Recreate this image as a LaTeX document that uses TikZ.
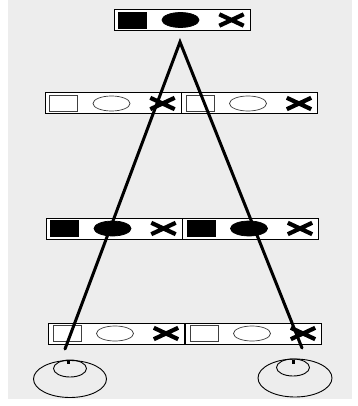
\documentclass[tikz,border=0pt]{standalone}
\usetikzlibrary{shapes.geometric}

% one half of a bar: square, oval and cross
\newcommand\panel[3]{%
  \node[tile] (#1) at (#2) {};
  \node[sqmark, #3]   (#1-sq) at ([xshift=19pt]#1.west) {};
  \node[ovalmark, #3] (#1-ov) at ([xshift=67pt]#1.west) {};
  \node[xbox]         (#1-x)  at ([xshift=118pt]#1.west) {};
  \draw[xstroke] (#1-x.north west) -- (#1-x.south east)
                 (#1-x.south west) -- (#1-x.north east);
}

\begin{document}
\begin{tikzpicture}[x=1pt, y=-1pt,
    tile/.style={rectangle, draw, line width=1pt, fill=white,
      minimum width=136pt, minimum height=21pt, inner sep=0pt},
    sqmark/.style={rectangle, draw, line width=0.9pt,
      minimum width=28pt, minimum height=16pt, inner sep=0pt},
    ovalmark/.style={ellipse, draw, line width=0.7pt,
      minimum width=37pt, minimum height=15pt, inner sep=0pt},
    xbox/.style={rectangle, minimum width=24pt, minimum height=11pt,
      inner sep=0pt},
    xstroke/.style={line width=4.2pt},
    full/.style={fill=black, draw=black},
    hollow/.style={fill=white, draw=black!75},
    eyeball/.style={ellipse, draw, line width=0.9pt, inner sep=0pt},
    pupil/.style={rectangle, fill=black, minimum width=3pt,
      minimum height=4pt, inner sep=0pt},
    sight/.style={line width=3pt, line cap=round}
  ]

  % paper
  \fill[white] (0,0) rectangle (357,406);
  \fill[black!7] (8,0) rectangle (352,399);
  \useasboundingbox (0,0) rectangle (357,406);

  % bars
  \panel{top}{182,20}{full}

  \panel{ra-l}{113,103.5}{hollow}
  \panel{ra-r}{249.5,103.5}{hollow}

  \panel{rb-l}{114,228.5}{full}
  \panel{rb-r}{250.5,228.5}{full}

  \panel{rc-l}{116.5,333.5}{hollow}
  \panel{rc-r}{253.5,333.5}{hollow}

  % eyes
  \node[eyeball, minimum width=73pt, minimum height=37pt] (eye-l) at (70,379) {};
  \node[eyeball, minimum width=33pt, minimum height=17pt] (iris-l) at (70,368.5) {};
  \node[pupil] (pup-l) at (68,362) {};

  \node[eyeball, minimum width=74pt, minimum height=38pt] (eye-r) at (295,378) {};
  \node[eyeball, minimum width=33pt, minimum height=17pt] (iris-r) at (293,367.5) {};
  \node[pupil] (pup-r) at (293,362) {};

  % lines of sight
  \coordinate (apex) at (180,42);
  \coordinate (end-l) at (65,349);
  \coordinate (end-r) at (302,348);
  \draw[sight] (end-l) -- (apex) -- (end-r);

\end{tikzpicture}
\end{document}
